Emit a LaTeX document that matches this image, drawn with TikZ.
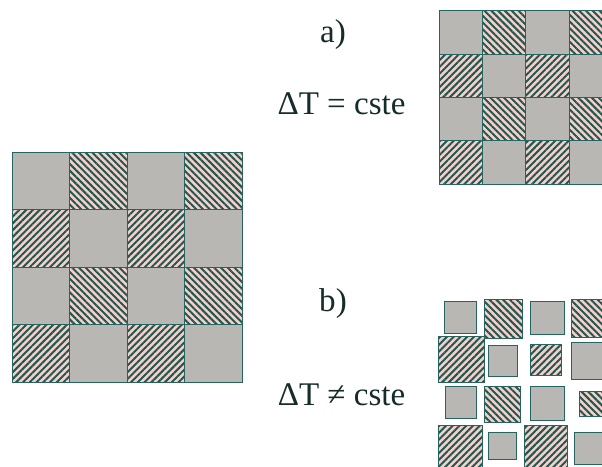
\documentclass[tikz,border=0pt]{standalone}
\usepackage{fontspec}
\setmainfont{Liberation Serif}
\usepackage{xcolor}
\usetikzlibrary{patterns.meta}

\definecolor{cellgray}{RGB}{184,183,180}
\definecolor{cellline}{RGB}{38,100,95}
\definecolor{hatchbg}{RGB}{248,206,201}
\definecolor{hatchink}{RGB}{30,88,82}
\definecolor{textink}{RGB}{22,44,42}

\tikzset{
  flat/.style={fill=cellgray, draw=cellline, line width=.6pt},
  hatchne/.style={preaction={fill=hatchbg}, draw=cellline, line width=.6pt,
    pattern={Lines[angle=45, distance=3.4pt, line width=1.4pt]}, pattern color=hatchink},
  hatchnw/.style={preaction={fill=hatchbg}, draw=cellline, line width=.6pt,
    pattern={Lines[angle=-45, distance=3.4pt, line width=1.4pt]}, pattern color=hatchink},
  caption/.style={font=\fontsize{23.5}{28}\selectfont, text=textink, anchor=base, inner sep=0pt}
}

\begin{document}
\begin{tikzpicture}[x=0.025cm, y=-0.025cm]
	\fill[white] (0,0) rectangle (602,466);
	\clip (0,0) rectangle (602,466);
	% left checkerboard
	\foreach \r in {0,...,3}
	  \foreach \c in {0,...,3} {
	    \pgfmathtruncatemacro{\kind}{mod(\r+\c,2)==0 ? 0 : (mod(\r,2)==0 ? 1 : 2)}
	    \ifcase\kind \def\sty{flat}\or \def\sty{hatchnw}\or \def\sty{hatchne}\fi
	    \draw[\sty] (12+57.5*\c,152+57.5*\r) rectangle +(57.5,57.5);
	  }
	% a) same board, smaller
	\foreach \r in {0,...,3}
	  \foreach \c in {0,...,3} {
	    \pgfmathtruncatemacro{\kind}{mod(\r+\c,2)==0 ? 0 : (mod(\r,2)==0 ? 1 : 2)}
	    \ifcase\kind \def\sty{flat}\or \def\sty{hatchnw}\or \def\sty{hatchne}\fi
	    \draw[\sty] (439+43.4*\c,10.7+43.4*\r) rectangle +(43.4,43.4);
	  }
	% b) cells pulled apart
	\foreach \xa/\ya/\xb/\yb/\sty in {
	    444.7/301/476.7/333.3/flat, 484.3/299/522.3/338.3/hatchnw,
	    530.7/301/564/334.3/flat, 571.7/299.3/612/337/hatchnw,
	    438.3/336.7/484.3/382.3/hatchne, 488.7/345.7/517.7/376/flat,
	    530/344/561/375/hatchne, 571.7/342.3/612/379.5/flat,
	    445.7/386/476/418/flat, 484/386/520/422.3/hatchnw,
	    530/386.7/564/420.7/flat, 579.5/391/612/416.5/hatchnw,
	    438.5/425/482/470/hatchne, 488.5/432.7/516/459.3/flat,
	    524.3/425/567.7/470/hatchne, 574.7/432.7/612/464/flat}
	  \draw[\sty] (\xa,\ya) rectangle (\xb,\yb);
	% labels
	\node[caption] (lbla) at (333,43) {a)};
	\node[caption] (eqa) at (341.5,114) {ΔT = cste};
	\node[caption] (lblb) at (333,311.5) {b)};
	\node[caption] (eqb) at (341.5,405) {ΔT ≠ cste};
\end{tikzpicture}
\end{document}
